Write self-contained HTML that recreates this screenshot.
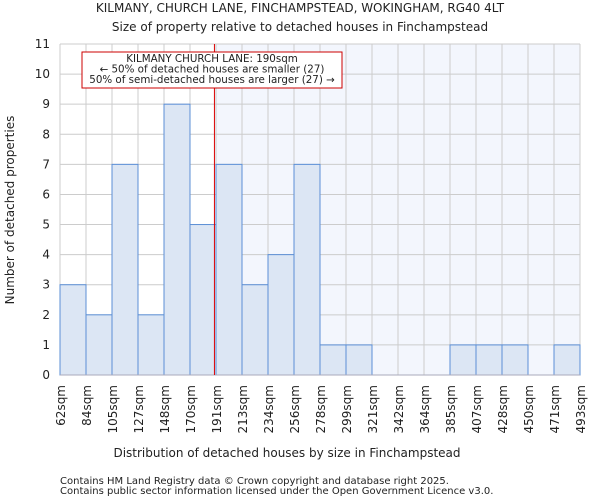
<!DOCTYPE html>
<html><head><meta charset="utf-8"><style>
body{margin:0;background:#fff;font-family:"DejaVu Sans","Liberation Sans",sans-serif;}
svg text{font-family:"DejaVu Sans","Liberation Sans",sans-serif;fill:#222;}
</style></head><body>
<svg id="c" width="600" height="500" xmlns="http://www.w3.org/2000/svg">
<text x="300" y="12" font-size="12" text-anchor="middle">KILMANY, CHURCH LANE, FINCHAMPSTEAD, WOKINGHAM, RG40 4LT</text>
<text x="300" y="31" font-size="12" text-anchor="middle">Size of property relative to detached houses in Finchampstead</text>
<g id="plot"></g>
<text x="287" y="457" font-size="12" text-anchor="middle">Distribution of detached houses by size in Finchampstead</text>
<text transform="translate(14,210) rotate(-90)" font-size="12" text-anchor="middle">Number of detached properties</text>
<text x="60" y="484" font-size="10" fill="#444">Contains HM Land Registry data © Crown copyright and database right 2025.</text>
<text x="60" y="494" font-size="10" fill="#444">Contains public sector information licensed under the Open Government Licence v3.0.</text>
</svg>
<script>
const categories=["62sqm","84sqm","105sqm","127sqm","148sqm","170sqm","191sqm","213sqm","234sqm","256sqm","278sqm","299sqm","321sqm","342sqm","364sqm","385sqm","407sqm","428sqm","450sqm","471sqm","493sqm"];
const counts=[3,2,7,2,9,5,7,3,4,7,1,1,0,0,0,1,1,1,0,1];
const yTicks=[0,1,2,3,4,5,6,7,8,9,10,11];
const markerValue=190;
const binStart=62, binWidth=21.55;
const X0=60,X1=580,Y0=375,Y1=44,YMAX=11;
const n=counts.length, bw=(X1-X0)/n;
const xi=i=>X0+i*bw;
const xv=v=>X0+(v-binStart)/binWidth*bw;
const y=v=>Y0-(v/YMAX)*(Y0-Y1);
const NS="http://www.w3.org/2000/svg";
const g=document.getElementById('plot');
function mk(t,a){const e=document.createElementNS(NS,t);for(const k in a)e.setAttribute(k,a[k]);g.appendChild(e);return e;}
const mx=xv(markerValue);
let e=mk('rect',{x:mx,y:Y1,width:X1-mx,height:Y0-Y1,fill:'#f3f6fd'});


yTicks.forEach(t=>{
 let l=mk('line',{x1:X0,x2:X1,y1:y(t),y2:y(t),stroke:'#ccc','stroke-width':1});
 
 
 let tx=mk('text',{x:X0-10,y:y(t)+4,'font-size':12,'text-anchor':'end'});tx.textContent=t;
 
 
});
for(let i=0;i<=n;i++){
 let l=mk('line',{x1:xi(i),x2:xi(i),y1:Y1,y2:Y0,stroke:'#ccc','stroke-width':1});
 
 
}
counts.forEach((c,i)=>{
 if(c<=0)return;
 let r=mk('rect',{x:xi(i),y:y(c),width:bw,height:Y0-y(c),fill:'#dce6f4',stroke:'#5b8fd6','stroke-width':1});
 
 
});
let ax=mk('line',{x1:X0,x2:X1,y1:Y0,y2:Y0,stroke:'#aab','stroke-width':1});


categories.forEach((c,i)=>{
 let t=mk('text',{transform:`translate(${xi(i)+5},385) rotate(-90)`,'font-size':12,'text-anchor':'end'});t.textContent=c;
 
 
});
let ml=mk('line',{x1:mx,x2:mx,y1:Y1,y2:Y0,stroke:'#d00','stroke-width':1});


let box=mk('rect',{x:82,y:52,width:260,height:36,fill:'#fff',stroke:'#c00','stroke-width':1});


["KILMANY CHURCH LANE: 190sqm","← 50% of detached houses are smaller (27)","50% of semi-detached houses are larger (27) →"].forEach((s,k)=>{
 let t=mk('text',{x:212,y:62+k*10.5,'font-size':10.3,'text-anchor':'middle'});t.textContent=s;
 
 
});
</script>
</body></html>
